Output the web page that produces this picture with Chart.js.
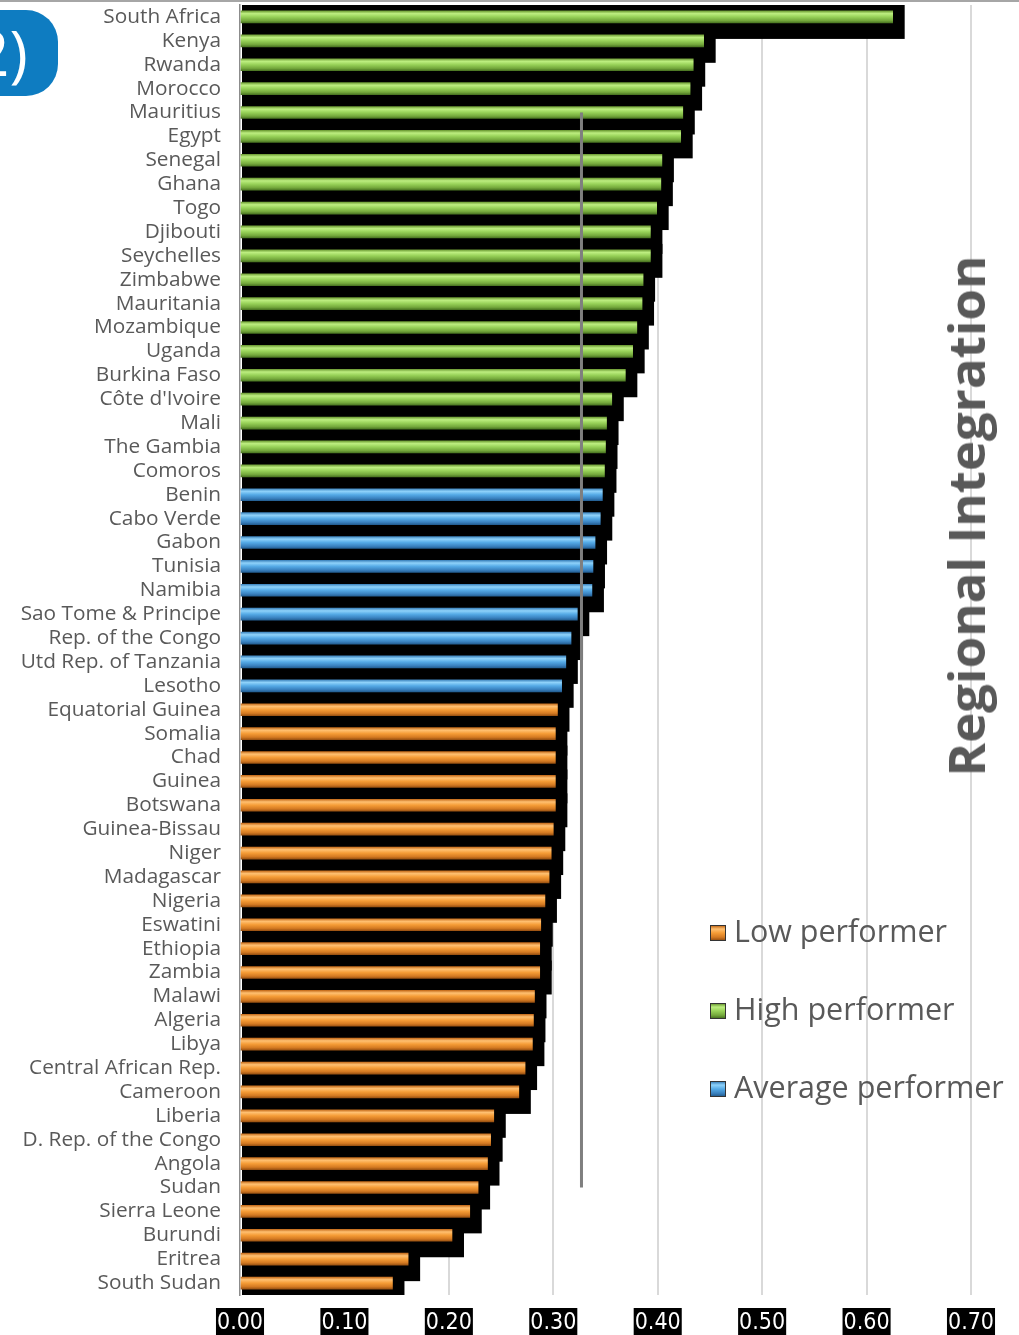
<!DOCTYPE html>
<html>
<head>
<meta charset="utf-8">
<script src="https://cdn.jsdelivr.net/npm/chart.js@4"></script>
<style>
  html, body { margin: 0; padding: 0; background: #fff; }
  body { width: 1019px; height: 1335px; position: relative; overflow: hidden; }
  #topline { position: absolute; left: 0; top: 0; width: 1019px; height: 2px; background: #a6a6a6; }
  #wrap { position: absolute; left: 0; top: 0; width: 1019px; height: 1335px; }
  #badge { position: absolute; left: 0; top: 10px; width: 58px; height: 86px; background: #0e7cc1; border-radius: 0 32px 32px 0; overflow: hidden; }
  #badge span { position: absolute; left: -26px; top: 2px; font: 62px 'Open Sans', sans-serif; color: #fff; line-height: 80px; }
  #title { position: absolute; left: 965px; top: 516px; transform: translate(-50%, -50%) rotate(-90deg); white-space: nowrap;
           font: bold 51px 'Open Sans', sans-serif; color: #595959; }
  .leg { position: absolute; left: 710px; font: 30.5px 'Open Sans', sans-serif; color: #595959; white-space: nowrap; line-height: 34px; }
  .leg i { display: inline-block; width: 14px; height: 14px; border: 1px solid #333; margin-right: 8px; vertical-align: 1px; }
</style>
</head>
<body>
<div id="wrap"><canvas id="c"></canvas></div>
<div id="topline"></div>
<div id="badge"><span>2)</span></div>
<div id="title">Regional Integration</div>
<div id="legendBox"></div>
<script>
const countries = [
  'South Africa', 'Kenya', 'Rwanda', 'Morocco', 'Mauritius', 'Egypt', 'Senegal', 'Ghana', 'Togo', 'Djibouti',
  'Seychelles', 'Zimbabwe', 'Mauritania', 'Mozambique', 'Uganda', 'Burkina Faso', "Côte d'Ivoire", 'Mali', 'The Gambia', 'Comoros',
  'Benin', 'Cabo Verde', 'Gabon', 'Tunisia', 'Namibia', 'Sao Tome & Principe', 'Rep. of the Congo', 'Utd Rep. of Tanzania', 'Lesotho',
  'Equatorial Guinea', 'Somalia', 'Chad', 'Guinea', 'Botswana', 'Guinea-Bissau', 'Niger', 'Madagascar', 'Nigeria', 'Eswatini',
  'Ethiopia', 'Zambia', 'Malawi', 'Algeria', 'Libya', 'Central African Rep.', 'Cameroon', 'Liberia', 'D. Rep. of the Congo', 'Angola',
  'Sudan', 'Sierra Leone', 'Burundi', 'Eritrea', 'South Sudan'
];
const scores = [
  0.625, 0.444, 0.434, 0.431, 0.424, 0.422, 0.404, 0.403, 0.399, 0.393,
  0.393, 0.386, 0.385, 0.380, 0.376, 0.369, 0.356, 0.351, 0.350, 0.349,
  0.347, 0.345, 0.340, 0.338, 0.337, 0.323, 0.317, 0.312, 0.308,
  0.304, 0.302, 0.302, 0.302, 0.302, 0.300, 0.298, 0.296, 0.292, 0.288,
  0.287, 0.287, 0.282, 0.281, 0.280, 0.273, 0.267, 0.243, 0.240, 0.237,
  0.228, 0.220, 0.203, 0.161, 0.146
];
const groups = [
  'High', 'High', 'High', 'High', 'High', 'High', 'High', 'High', 'High', 'High',
  'High', 'High', 'High', 'High', 'High', 'High', 'High', 'High', 'High', 'High',
  'Average', 'Average', 'Average', 'Average', 'Average', 'Average', 'Average', 'Average', 'Average',
  'Low', 'Low', 'Low', 'Low', 'Low', 'Low', 'Low', 'Low', 'Low', 'Low',
  'Low', 'Low', 'Low', 'Low', 'Low', 'Low', 'Low', 'Low', 'Low', 'Low',
  'Low', 'Low', 'Low', 'Low', 'Low'
];
const legendOrder = ['Low', 'High', 'Average'];
const legendLabels = { Low: 'Low performer', High: 'High performer', Average: 'Average performer' };
const xTicks = [0, 0.1, 0.2, 0.3, 0.4, 0.5, 0.6, 0.7];
// average marker: value and first/last country it spans
const avgValue = 0.327;
const avgFrom = 'Mauritius';
const avgTo = 'Sudan';

const palette = {
  High:    [[0, '#6f9e36'], [0.22, '#bdee80'], [0.5, '#97d158'], [0.8, '#74a83c'], [1, '#4a7522']],
  Average: [[0, '#3f86bf'], [0.22, '#8fd2fa'], [0.5, '#55aae6'], [0.8, '#3a82c0'], [1, '#245f93']],
  Low:     [[0, '#c66d1c'], [0.22, '#ffc071'], [0.5, '#f59c36'], [0.8, '#d47a22'], [1, '#9a5212']],
};
const BAR_H = 12;

function barFill(name) {
  const stops = palette[name];
  return ctx => {
    const y = ctx.chart.scales.y;
    if (!y || ctx.dataIndex === undefined) return stops[2][1];
    const c = y.getPixelForValue(ctx.dataIndex);
    if (!Number.isFinite(c)) return stops[2][1];
    const g = ctx.chart.ctx.createLinearGradient(0, c - BAR_H / 2, 0, c + BAR_H / 2);
    stops.forEach(s => g.addColorStop(s[0], s[1]));
    return g;
  };
}

const datasets = ['High', 'Average', 'Low'].map(name => ({
  label: legendLabels[name],
  data: scores.map((v, i) => groups[i] === name ? v : null),
  backgroundColor: barFill(name),
  borderWidth: 0,
  barThickness: BAR_H,
  grouped: false,
}));

// hard black drop shadow behind each bar + the average line on top
const shadowPlugin = {
  id: 'barShadow',
  beforeDatasetsDraw(chart) {
    const { ctx, chartArea, scales: { y } } = chart;
    const band = y.getPixelForValue(1) - y.getPixelForValue(0);
    ctx.save();
    ctx.beginPath();
    ctx.rect(chartArea.left, chartArea.top, chartArea.width, chartArea.height);
    ctx.clip();
    ctx.fillStyle = '#000';
    chart.data.datasets.forEach((ds, di) => {
      chart.getDatasetMeta(di).data.forEach((el, i) => {
        if (ds.data[i] === null) return;
        ctx.fillRect(el.base + 1, el.y - band / 2, el.x + 12 - el.base - 1, band * 1.42);
      });
    });
    ctx.restore();
  },
  afterDatasetsDraw(chart) {
    const { ctx, scales: { x, y } } = chart;
    const px = x.getPixelForValue(avgValue);
    ctx.save();
    ctx.strokeStyle = '#7f7f7f';
    ctx.lineWidth = 3;
    ctx.beginPath();
    ctx.moveTo(px, y.getPixelForValue(countries.indexOf(avgFrom)));
    ctx.lineTo(px, y.getPixelForValue(countries.indexOf(avgTo)));
    ctx.stroke();
    ctx.restore();
  }
};

const chart = new Chart(document.getElementById('c'), {
  type: 'bar',
  data: { labels: countries, datasets },
  plugins: [shadowPlugin],
  options: {
    indexAxis: 'y',
    responsive: true,
    maintainAspectRatio: false,
    animation: false,
    layout: { padding: { top: 5, right: 48, left: 0, bottom: 0 } },
    plugins: { legend: { display: false }, tooltip: { enabled: false } },
    scales: {
      x: {
        min: 0, max: 0.7,
        afterBuildTicks: s => { s.ticks = xTicks.map(v => ({ value: v })); },
        afterFit: s => { s.height = 40; },
        grid: { color: ctx => ctx.index === 0 ? 'rgba(0,0,0,0)' : '#d9d9d9', lineWidth: 2, drawTicks: false },
        border: { display: false },
        ticks: {
          callback: v => Number(v).toFixed(2),
          color: '#fff',
          font: { family: "'Liberation Sans Narrow', 'DejaVu Sans Condensed', sans-serif", size: 23 },
          padding: 14,
          showLabelBackdrop: true,
          backdropColor: '#000',
          backdropPadding: { top: 1, bottom: 2, left: 1, right: 1 },
          maxRotation: 0,
        },
      },
      y: {
        afterFit: s => { s.width = 240; s.paddingTop = 0; s.paddingBottom = 0; },
        grid: { display: false, drawTicks: false },
        border: { display: true, color: '#8c8c8c', width: 1.5 },
        ticks: {
          autoSkip: false,
          color: '#595959',
          font: { family: "'Open Sans', sans-serif", size: 20.8 },
          padding: 19,
        },
      },
    },
  },
});
chart.update();

// legend
const lb = document.getElementById('legendBox');
legendOrder.forEach((name, k) => {
  const stops = palette[name];
  const d = document.createElement('div');
  d.className = 'leg';
  d.style.top = (913 + k * 78) + 'px';
  d.innerHTML = `<i style="background:linear-gradient(${stops.map(s => s[1] + ' ' + s[0] * 100 + '%').join(',')})"></i>${legendLabels[name]}`;
  lb.appendChild(d);
});
</script>
</body>
</html>
